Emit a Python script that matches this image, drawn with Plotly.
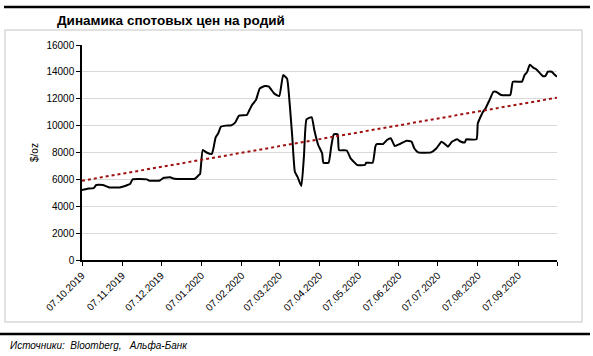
import plotly.graph_objects as go

title_text = "Динамика спотовых цен на родий"
source_text = "Источники:  Bloomberg,   Альфа-Банк"
y_title = "$/oz"

dates = [
    "2019-10-07", "2019-10-11", "2019-10-16", "2019-10-18", "2019-10-23", "2019-10-28",
    "2019-11-05", "2019-11-13", "2019-11-15", "2019-11-26", "2019-11-28", "2019-12-06",
    "2019-12-09", "2019-12-14", "2019-12-17", "2020-01-02", "2020-01-05", "2020-01-06",
    "2020-01-08", "2020-01-11", "2020-01-15", "2020-01-16", "2020-01-18", "2020-01-20",
    "2020-01-22", "2020-01-26", "2020-01-30", "2020-02-02", "2020-02-05", "2020-02-11",
    "2020-02-13", "2020-02-15", "2020-02-18", "2020-02-21", "2020-02-25", "2020-02-28",
    "2020-03-03", "2020-03-07", "2020-03-10", "2020-03-13", "2020-03-15", "2020-03-17",
    "2020-03-19", "2020-03-21", "2020-03-24", "2020-03-26", "2020-03-28", "2020-04-01",
    "2020-04-03", "2020-04-06", "2020-04-09", "2020-04-10", "2020-04-14", "2020-04-16",
    "2020-04-18", "2020-04-21", "2020-04-22", "2020-04-28", "2020-05-01", "2020-05-03",
    "2020-05-06", "2020-05-12", "2020-05-13", "2020-05-18", "2020-05-20", "2020-05-21",
    "2020-05-26", "2020-05-29", "2020-06-01", "2020-06-04", "2020-06-08", "2020-06-13",
    "2020-06-17", "2020-06-19", "2020-06-22", "2020-07-02", "2020-07-06", "2020-07-10",
    "2020-07-13", "2020-07-15", "2020-07-18", "2020-07-22", "2020-07-25", "2020-07-28",
    "2020-07-29", "2020-08-06", "2020-08-07", "2020-08-11", "2020-08-13", "2020-08-16",
    "2020-08-19", "2020-08-21", "2020-08-25", "2020-09-01", "2020-09-03", "2020-09-10",
    "2020-09-12", "2020-09-14", "2020-09-16", "2020-09-19", "2020-09-21", "2020-09-26",
    "2020-09-28", "2020-09-30", "2020-10-03", "2020-10-05", "2020-10-07",
]
prices = [
    5200, 5300, 5350, 5580, 5580, 5400,
    5400, 5650, 6000, 6000, 5900, 5920,
    6120, 6150, 6050, 6050, 6320, 6400,
    8180, 8000, 7890, 8180, 9130, 9430,
    9920, 10000, 10020, 10220, 10740, 10790,
    11160, 11530, 11900, 12770, 12950, 12900,
    12400, 12200, 13760, 13500, 11650, 9170,
    6570, 6200, 5500, 7690, 10470, 10620,
    9670, 8560, 7940, 7240, 7240, 8430,
    9350, 9350, 8180, 8150, 7560, 7350,
    7070, 7070, 7240, 7240, 8430, 8630,
    8630, 8930, 9050, 8480, 8630, 8880,
    8800, 8310, 8010, 8010, 8300, 8800,
    8600, 8430, 8800, 8980, 8800, 8750,
    8980, 8980, 10170, 11040, 11300, 11900,
    12520, 12520, 12280, 12280, 13270, 13270,
    13760, 14000, 14530, 14300, 14200, 13690,
    13690, 14010, 14010, 13800, 13640,
]

trend_dates = ["2019-10-07", "2020-10-07"]
trend_values = [5900, 12080]

tick_dates = ["2019-10-07", "2019-11-07", "2019-12-07", "2020-01-07", "2020-02-07",
              "2020-03-07", "2020-04-07", "2020-05-07", "2020-06-07", "2020-07-07",
              "2020-08-07", "2020-09-07", "2020-10-07"]
tick_labels = ["07.10.2019", "07.11.2019", "07.12.2019", "07.01.2020", "07.02.2020",
               "07.03.2020", "07.04.2020", "07.05.2020", "07.06.2020", "07.07.2020",
               "07.08.2020", "07.09.2020", ""]

FONT = "Liberation Sans, Arial, sans-serif"

fig = go.Figure()
fig.add_trace(go.Scatter(x=dates, y=prices, mode="lines",
                         line=dict(color="black", width=2, shape="spline", smoothing=0.4),
                         showlegend=False, hoverinfo="skip"))
fig.add_trace(go.Scatter(x=trend_dates, y=trend_values, mode="lines",
                         line=dict(color="#a01010", width=2, dash="dot"),
                         showlegend=False, hoverinfo="skip"))

# plot area: x 82..557, y 45..260 (px)
L, R, T, B = 82, 557, 45, 260
W, H = 593, 356
def px(x):
    return (x - L) / (R - L)
def py(y):
    return (B - y) / (B - T)

shapes = [
    dict(type="rect", xref="paper", yref="paper", x0=px(5), x1=px(582), y0=py(322), y1=py(30),
         line=dict(color="#d8d8d8", width=1.5), layer="below"),
    dict(type="line", xref="paper", yref="paper", x0=px(4), x1=px(590), y0=py(7), y1=py(7),
         line=dict(color="black", width=2.5)),
    dict(type="line", xref="paper", yref="paper", x0=px(0), x1=px(590), y0=py(334), y1=py(334),
         line=dict(color="black", width=2.5)),
]

annotations = [
    dict(text="<b>" + title_text + "</b>", xref="paper", yref="paper", x=px(55), y=py(20),
         xanchor="left", yanchor="middle", showarrow=False,
         font=dict(family=FONT, size=13.5, color="black")),
    dict(text="<i>" + source_text + "</i>", xref="paper", yref="paper", x=px(8), y=py(345),
         xanchor="left", yanchor="middle", showarrow=False,
         font=dict(family=FONT, size=10, color="black")),
    dict(text=y_title, xref="paper", yref="paper", x=px(34), y=py(153),
         xanchor="center", yanchor="middle", showarrow=False, textangle=-90,
         font=dict(family=FONT, size=10, color="black")),
]

fig.update_layout(
    width=W, height=H,
    margin=dict(l=L, r=W - R, t=T, b=H - B, pad=0),
    paper_bgcolor="white", plot_bgcolor="white",
    font=dict(family=FONT, size=10, color="black"),
    shapes=shapes, annotations=annotations,
    xaxis=dict(type="date", range=["2019-10-07", "2020-10-07"],
               tickmode="array", tickvals=tick_dates, ticktext=tick_labels,
               tickangle=-45, ticks="outside", ticklen=4, tickcolor="black",
               showline=True, linecolor="black", linewidth=1.5,
               showgrid=False, zeroline=False, tickfont=dict(size=10)),
    yaxis=dict(range=[0, 16000], tickmode="linear", tick0=0, dtick=2000,
               tickformat="d", ticks="outside", ticklen=4, tickcolor="black",
               showline=True, linecolor="black", linewidth=1.5,
               showgrid=True, gridcolor="#d9d9d9", gridwidth=1, zeroline=False,
               tickfont=dict(size=10)),
)

fig.write_html("out.html", config={"displayModeBar": False},
               post_script="document.body.style.margin='0';document.body.style.overflow='hidden';")
